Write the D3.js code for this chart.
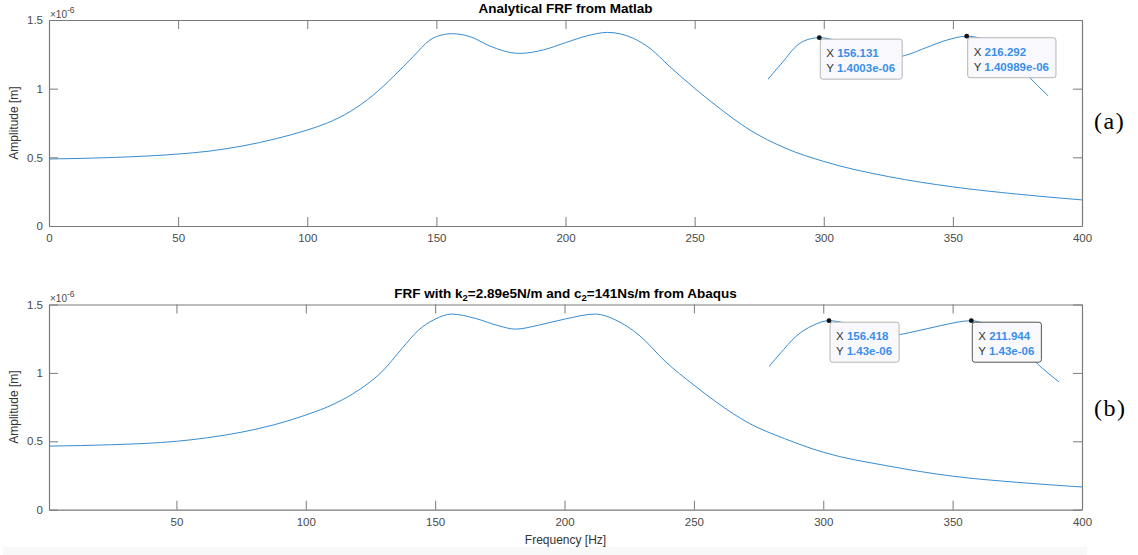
<!DOCTYPE html>
<html lang="en">
<head>
<meta charset="utf-8">
<title>FRF comparison</title>
<script src="https://d3js.org/d3.v7.min.js"></script>
<style>
  body, html { margin: 0; padding: 0; background: #fff; overflow: hidden; }
  svg { display: block; }
  .tick text { font: 11.5px "Liberation Sans", Arial, sans-serif; fill: #4a4a4a; }
  .tick line, .domain { stroke: #7a7a7a; }
  .title { font: bold 13.5px "Liberation Sans", Arial, sans-serif; fill: #000; text-anchor: middle; }
  .lab { font: 12px "Liberation Sans", Arial, sans-serif; fill: #333; text-anchor: middle; }
  .expo { font: 10px "Liberation Sans", Arial, sans-serif; fill: #4a4a4a; }
  .tag { font: 24px "Liberation Serif", "DejaVu Serif", serif; fill: #000; letter-spacing: 1.5px; }
  .tip text { font: 11.5px "Liberation Sans", Arial, sans-serif; }
</style>
</head>
<body>
<svg width="1138" height="555"></svg>
<script>
// (a) analytical FRF from Matlab, amplitude in 1e-6 m
var freqA = [0, 25, 50, 62, 75, 88, 100, 107.5, 116.5, 125.6, 133.3, 141, 147.5, 150, 156.131, 163, 170.7, 176, 182.3,
             191.4, 200, 208.2, 216.292, 226.2, 232.7, 240.4, 250, 258.5, 271.4, 285, 300, 325, 350, 375, 400];
var ampA  = [0.488, 0.499, 0.524, 0.545, 0.583, 0.636, 0.699, 0.748, 0.832, 0.954, 1.087, 1.233, 1.354, 1.379, 1.4003, 1.379, 1.311, 1.275, 1.257,
             1.282, 1.335, 1.384, 1.40989, 1.367, 1.294, 1.160, 1.003, 0.874, 0.699, 0.568, 0.47, 0.36, 0.285, 0.232, 0.19];

// (b) FRF from Abaqus
var freqB = [0.75, 25, 50, 62, 75, 88, 100, 111.4, 120.4, 129.4, 137.2, 143.6, 150, 156.418, 165.6, 174.6, 181, 190,
             200, 211.944, 219.8, 228.8, 239.1, 250, 258.5, 271.4, 285, 300, 325, 350, 375, 400];
var ampB  = [0.465, 0.475, 0.50, 0.526, 0.566, 0.622, 0.692, 0.777, 0.874, 1.008, 1.179, 1.313, 1.393, 1.43, 1.398, 1.344, 1.320, 1.349,
             1.393, 1.43, 1.386, 1.276, 1.081, 0.911, 0.789, 0.631, 0.52, 0.42, 0.32, 0.245, 0.20, 0.166];

var xTicksA = [0, 50, 100, 150, 200, 250, 300, 350, 400];
var xTicksB = [50, 100, 150, 200, 250, 300, 350, 400];
var yTicks = [0, 0.5, 1, 1.5];

// data tips
var tipXA = ["156.131", "216.292"], tipYA = ["1.4003e-06", "1.40989e-06"];
var tipXB = ["156.418", "211.944"], tipYB = ["1.43e-06", "1.43e-06"];

var svg = d3.select("svg");

svg.append("rect").attr("x", 3).attr("y", 547).attr("width", 1084).attr("height", 8).attr("fill", "#f8f8f8");

function drawPanel(o) {
    var x = d3.scaleLinear().domain(o.xDomain).range([o.left, o.right]);
    var y = d3.scaleLinear().domain([0, 1.5]).range([o.bottom, o.top]);
    var g = svg.append("g");

    var line = d3.line()
        .x(function (d) { return x(d[0]); })
        .y(function (d) { return y(d[1]); })
        .curve(d3.curveMonotoneX);

    var pts = d3.zip(o.freq, o.amp);

    g.append("path").datum(pts)
        .attr("d", line)
        .attr("fill", "none")
        .attr("stroke", "#1f7fcc")
        .attr("stroke-width", 0.9);

    // axes, inward ticks on all four sides
    g.append("g").attr("transform", "translate(0," + o.bottom + ")")
        .call(d3.axisBottom(x).tickValues(o.xTicks).tickSizeInner(-9).tickSizeOuter(0).tickPadding(8).tickFormat(d3.format("d")));
    g.append("g").attr("transform", "translate(0," + o.top + ")")
        .call(d3.axisTop(x).tickValues(o.xTicks).tickSizeInner(-9).tickSizeOuter(0).tickFormat(""));
    g.append("g").attr("transform", "translate(" + o.left + ",0)")
        .call(d3.axisLeft(y).tickValues(yTicks).tickSizeInner(-9).tickSizeOuter(0).tickPadding(6).tickFormat(function (d) { return String(d); }));
    g.append("g").attr("transform", "translate(" + o.right + ",0)")
        .call(d3.axisRight(y).tickValues(yTicks).tickSizeInner(-9).tickSizeOuter(0).tickFormat(""));
    g.selectAll(".domain").attr("stroke-width", 1.2);

    // exponent
    var ex = g.append("text").attr("class", "expo").attr("x", o.left + 1).attr("y", o.top - 2.5);
    ex.append("tspan").text("\u00d710");
    ex.append("tspan").attr("dy", -5).style("font-size", "8.5px").text("-6");

    // y label
    g.append("text").attr("class", "lab")
        .attr("transform", "translate(18," + (o.top + o.bottom) / 2 + ") rotate(-90)")
        .text("Amplitude [m]");

    // title
    var t = g.append("text").attr("class", "title").attr("x", (o.left + o.right) / 2).attr("y", o.top - 7);
    o.title.forEach(function (p) {
        var s = t.append("tspan").text(p[0]);
        if (p[1]) s.attr("dy", 3).style("font-size", "9.5px");
        else if (p[2]) s.attr("dy", -3);
    });

    // panel tag
    g.append("text").attr("class", "tag").attr("x", 1094).attr("y", o.tagY).text(o.tag);

    // inset copy of the peak region with the data tips
    var ix = d3.scaleLinear().domain([+o.tipX[0], +o.tipX[1]]).range(o.insetX);
    var iy = d3.scaleLinear().domain(o.insetYDom).range(o.insetYRange);
    var clipId = "clip" + o.tag.replace(/\W/g, "");
    g.append("clipPath").attr("id", clipId).append("rect")
        .attr("x", o.insetClip[0]).attr("y", o.top - 20)
        .attr("width", o.insetClip[1] - o.insetClip[0]).attr("height", 150);
    var iline = d3.line()
        .x(function (d) { return ix(d[0]); })
        .y(function (d) { return iy(d[1]); })
        .curve(d3.curveMonotoneX);
    g.append("path").datum(pts.filter(function (d) { return d[0] > 120 && d[0] < 262; }))
        .attr("d", iline)
        .attr("clip-path", "url(#" + clipId + ")")
        .attr("fill", "none")
        .attr("stroke", "#1f7fcc")
        .attr("stroke-width", 0.9);

    o.tipX.forEach(function (tx, i) {
        var px = ix(+tx), py = iy(parseFloat(o.tipY[i]) * 1e6);
        var tip = g.append("g").attr("class", "tip").attr("transform", "translate(" + (px + 1) + "," + (py + 1.5) + ")");
        var box = tip.append("rect").attr("rx", 2.5).attr("ry", 2.5)
            .attr("fill", "#f9f9fd")
            .attr("stroke", i === o.selected ? "#555" : "#b4b4b4")
            .attr("stroke-width", 1);
        var lines = [["X", tx], ["Y", o.tipY[i]]];
        var wmax = 0;
        lines.forEach(function (l, k) {
            var tt = tip.append("text").attr("x", 6).attr("y", 18 + k * 15);
            tt.append("tspan").attr("fill", "#333").text(l[0] + " ");
            tt.append("tspan").attr("fill", "#3a8fe8").attr("font-weight", "bold").text(l[1]);
            wmax = Math.max(wmax, tt.node().getComputedTextLength());
        });
        box.attr("width", wmax + 13).attr("height", 40);
        g.append("circle").attr("cx", px).attr("cy", py).attr("r", 2.4).attr("fill", "#111");
    });

    return x;
}

drawPanel({
    freq: freqA, amp: ampA, xDomain: [0, 400], xTicks: xTicksA,
    left: 49, right: 1082, top: 20, bottom: 226,
    title: [["Analytical FRF from Matlab"]],
    tag: "(a)", tagY: 129,
    tipX: tipXA, tipY: tipYA, selected: -1,
    insetX: [819.3, 966.7], insetYDom: [1.41, 1.003], insetYRange: [36.2, 97], insetClip: [768, 1048]
});

drawPanel({
    freq: freqB, amp: ampB, xDomain: [0.75, 400], xTicks: xTicksB,
    left: 49, right: 1082, top: 304.5, bottom: 509.7,
    title: [["FRF with k"], ["2", true], ["=2.89e5N/m and c", false, true], ["2", true], ["=141Ns/m from Abaqus", false, true]],
    tag: "(b)", tagY: 416,
    tipX: tipXB, tipY: tipYB, selected: 1,
    insetX: [829, 971.3], insetYDom: [1.43, 0.96], insetYRange: [320.7, 383], insetClip: [769, 1059]
});

svg.append("text").attr("class", "lab").attr("x", 565.5).attr("y", 544).text("Frequency [Hz]");
</script>
</body>
</html>
